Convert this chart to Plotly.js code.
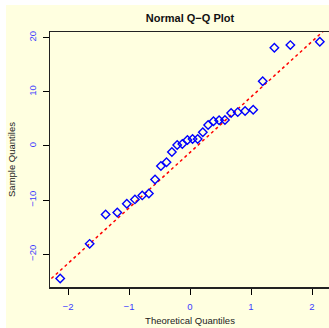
<!DOCTYPE html>
<html>
<head>
<meta charset="utf-8">
<script src="https://cdn.plot.ly/plotly-3.0.1.min.js"></script>
<style>
html,body{margin:0;padding:0;background:#ffffff;overflow:hidden;width:329px;height:328px;}
#chart{position:absolute;left:6px;top:5px;width:340px;height:330px;}
</style>
</head>
<body>
<div id="chart"></div>
<script>
// Theoretical quantiles (x)
const theoretical = [-2.128, -1.645, -1.383, -1.192, -1.036, -0.903, -0.783, -0.674, -0.573, -0.477,
  -0.385, -0.297, -0.210, -0.126, -0.042, 0.042, 0.126, 0.210, 0.297, 0.385,
  0.477, 0.573, 0.674, 0.783, 0.903, 1.036, 1.192, 1.383, 1.645, 2.128];
// Sample quantiles (y)
const sample = [-24.47, -18.08, -12.66, -12.29, -10.66, -9.87, -9.13, -8.78, -6.20, -3.69,
  -3.01, -1.11, 0.18, 0.37, 1.09, 1.29, 1.29, 2.53, 3.87, 4.56,
  4.74, 4.80, 6.09, 6.25, 6.46, 6.68, 11.94, 18.15, 18.63, 19.26];
// Reference line (qqline)
const lineIntercept = -1.2;
const lineSlope = 10.25;
const lineX = [-3, 3];
const lineY = lineX.map(x => lineIntercept + lineSlope * x);

const xTicks = [-2, -1, 0, 1, 2];
const yTicks = [-20, -10, 0, 10, 20];

const tickBlue = '#3c3cff';
const bg = '#ffffe0';

const traces = [
  {x: lineX, y: lineY, type: 'scatter', mode: 'lines',
   line: {color: '#ff0000', width: 1.5, dash: 'dot'}, hoverinfo: 'skip'},
  {x: theoretical, y: sample, type: 'scatter', mode: 'markers',
   marker: {symbol: 'diamond-open', size: 6.5, color: '#0000ff', line: {width: 1.4, color: '#0000ff'}}}
];

const layout = {
  width: 340, height: 330,
  paper_bgcolor: bg, plot_bgcolor: bg,
  showlegend: false,
  margin: {l: 44, r: 16, t: 27, b: 48, pad: 0},
  font: {family: 'Liberation Sans, Arial, sans-serif', size: 9, color: '#222'},
  title: {text: '<b>Normal Q−Q Plot</b>', x: 0.5, xref: 'paper', y: 1 - 13/330, yref: 'container', yanchor: 'middle',
          font: {family: 'Liberation Sans, Arial, sans-serif', size: 11, color: '#111'}},
  xaxis: {range: [-2.295, 2.295], tickvals: xTicks, ticktext: xTicks.map(v => (v < 0 ? '−' : '') + Math.abs(v)),
          ticks: 'outside', ticklen: 6, tickwidth: 1, tickcolor: '#000', ticklabelstandoff: 4,
          showgrid: false, zeroline: false, showline: true, linecolor: '#222', linewidth: 1.5, mirror: true,
          tickfont: {color: tickBlue, size: 9.5},
          title: {text: 'Theoretical Quantiles', standoff: 6, font: {size: 9.5, color: '#222'}}},
  yaxis: {range: [-26.05, 21.05], tickvals: yTicks, ticktext: yTicks.map(v => (v < 0 ? '−' : '') + Math.abs(v)),
          ticks: 'outside', ticklen: 6, tickwidth: 1, tickcolor: '#000', tickangle: -90, ticklabelstandoff: 3,
          showgrid: false, zeroline: false, showline: true, linecolor: '#222', linewidth: 1.5, mirror: true,
          tickfont: {color: tickBlue, size: 9.5},
          title: {text: 'Sample Quantiles', standoff: 10, font: {size: 9.5, color: '#222'}}}
};

Plotly.newPlot('chart', traces, layout, {staticPlot: true, displayModeBar: false});
</script>
</body>
</html>
